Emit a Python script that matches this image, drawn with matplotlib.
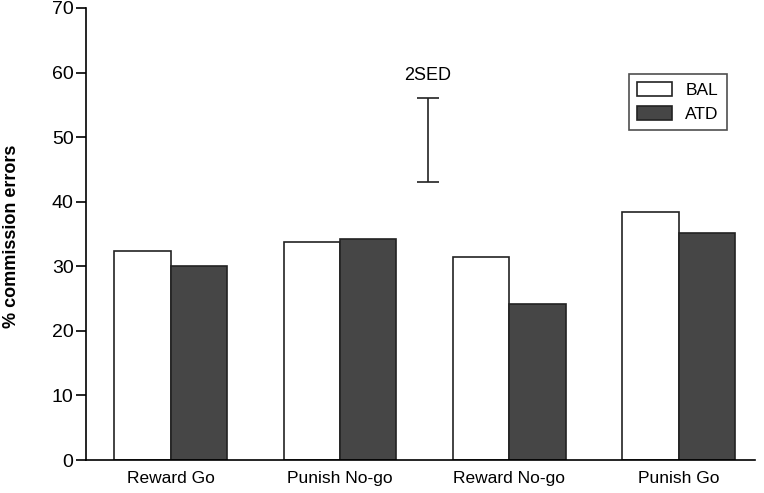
import matplotlib.pyplot as plt
import numpy as np

plt.rcParams['font.family'] = ['Liberation Sans', 'DejaVu Sans']

categories = ["Reward Go", "Punish No-go", "Reward No-go", "Punish Go"]
bal = [32.4, 33.8, 31.4, 38.4]
atd = [30.0, 34.2, 24.1, 35.2]
sed_low, sed_high = 43.0, 56.1

fig = plt.figure(figsize=(7.64, 4.93), dpi=100)
ax = fig.add_axes([0.1126, 0.0669, 0.8754, 0.9169])

x = np.arange(len(categories))
w = 1 / 3
ax.bar(x - w / 2, bal, w, color="white", edgecolor="#222222", linewidth=1.2, label="BAL")
ax.bar(x + w / 2, atd, w, color="#464646", edgecolor="#222222", linewidth=1.2, label="ATD")

# 2SED bar
sx = 1.52
ax.errorbar([sx], [(sed_low + sed_high) / 2], yerr=[[(sed_high - sed_low) / 2]],
            fmt="none", ecolor="#222222", elinewidth=1.2, capsize=8, capthick=1.2)
ax.text(sx, 58.3, "2SED", ha="center", va="bottom", fontsize=13)

ax.set_xlim(-0.5, 3.45)
ax.set_ylim(0, 70)
ax.set_yticks(range(0, 71, 10))
ax.set_xticks(x)
ax.set_xticklabels(categories, fontsize=12.5)
ax.tick_params(axis="x", length=0, pad=8)
ax.tick_params(axis="y", labelsize=14, length=7, width=1.2, direction="out", pad=2)
ax.spines["top"].set_visible(False)
ax.spines["right"].set_visible(False)
ax.spines["left"].set_linewidth(1.2)
ax.spines["bottom"].set_linewidth(1.2)
fig.text(12 / 764, 1 - 236 / 493, "% commission errors", rotation=90, ha="center", va="center",
         fontsize=13, fontweight="bold")

leg = ax.legend(loc="upper right", bbox_to_anchor=(0.958, 0.854), fontsize=12.5,
                frameon=True, fancybox=False, edgecolor="#222222",
                handlelength=2.0, handleheight=0.9, handletextpad=0.8,
                borderpad=0.45, labelspacing=0.45, borderaxespad=0)
leg.get_frame().set_linewidth(1.2)

fig.savefig("out.png", dpi=100)
